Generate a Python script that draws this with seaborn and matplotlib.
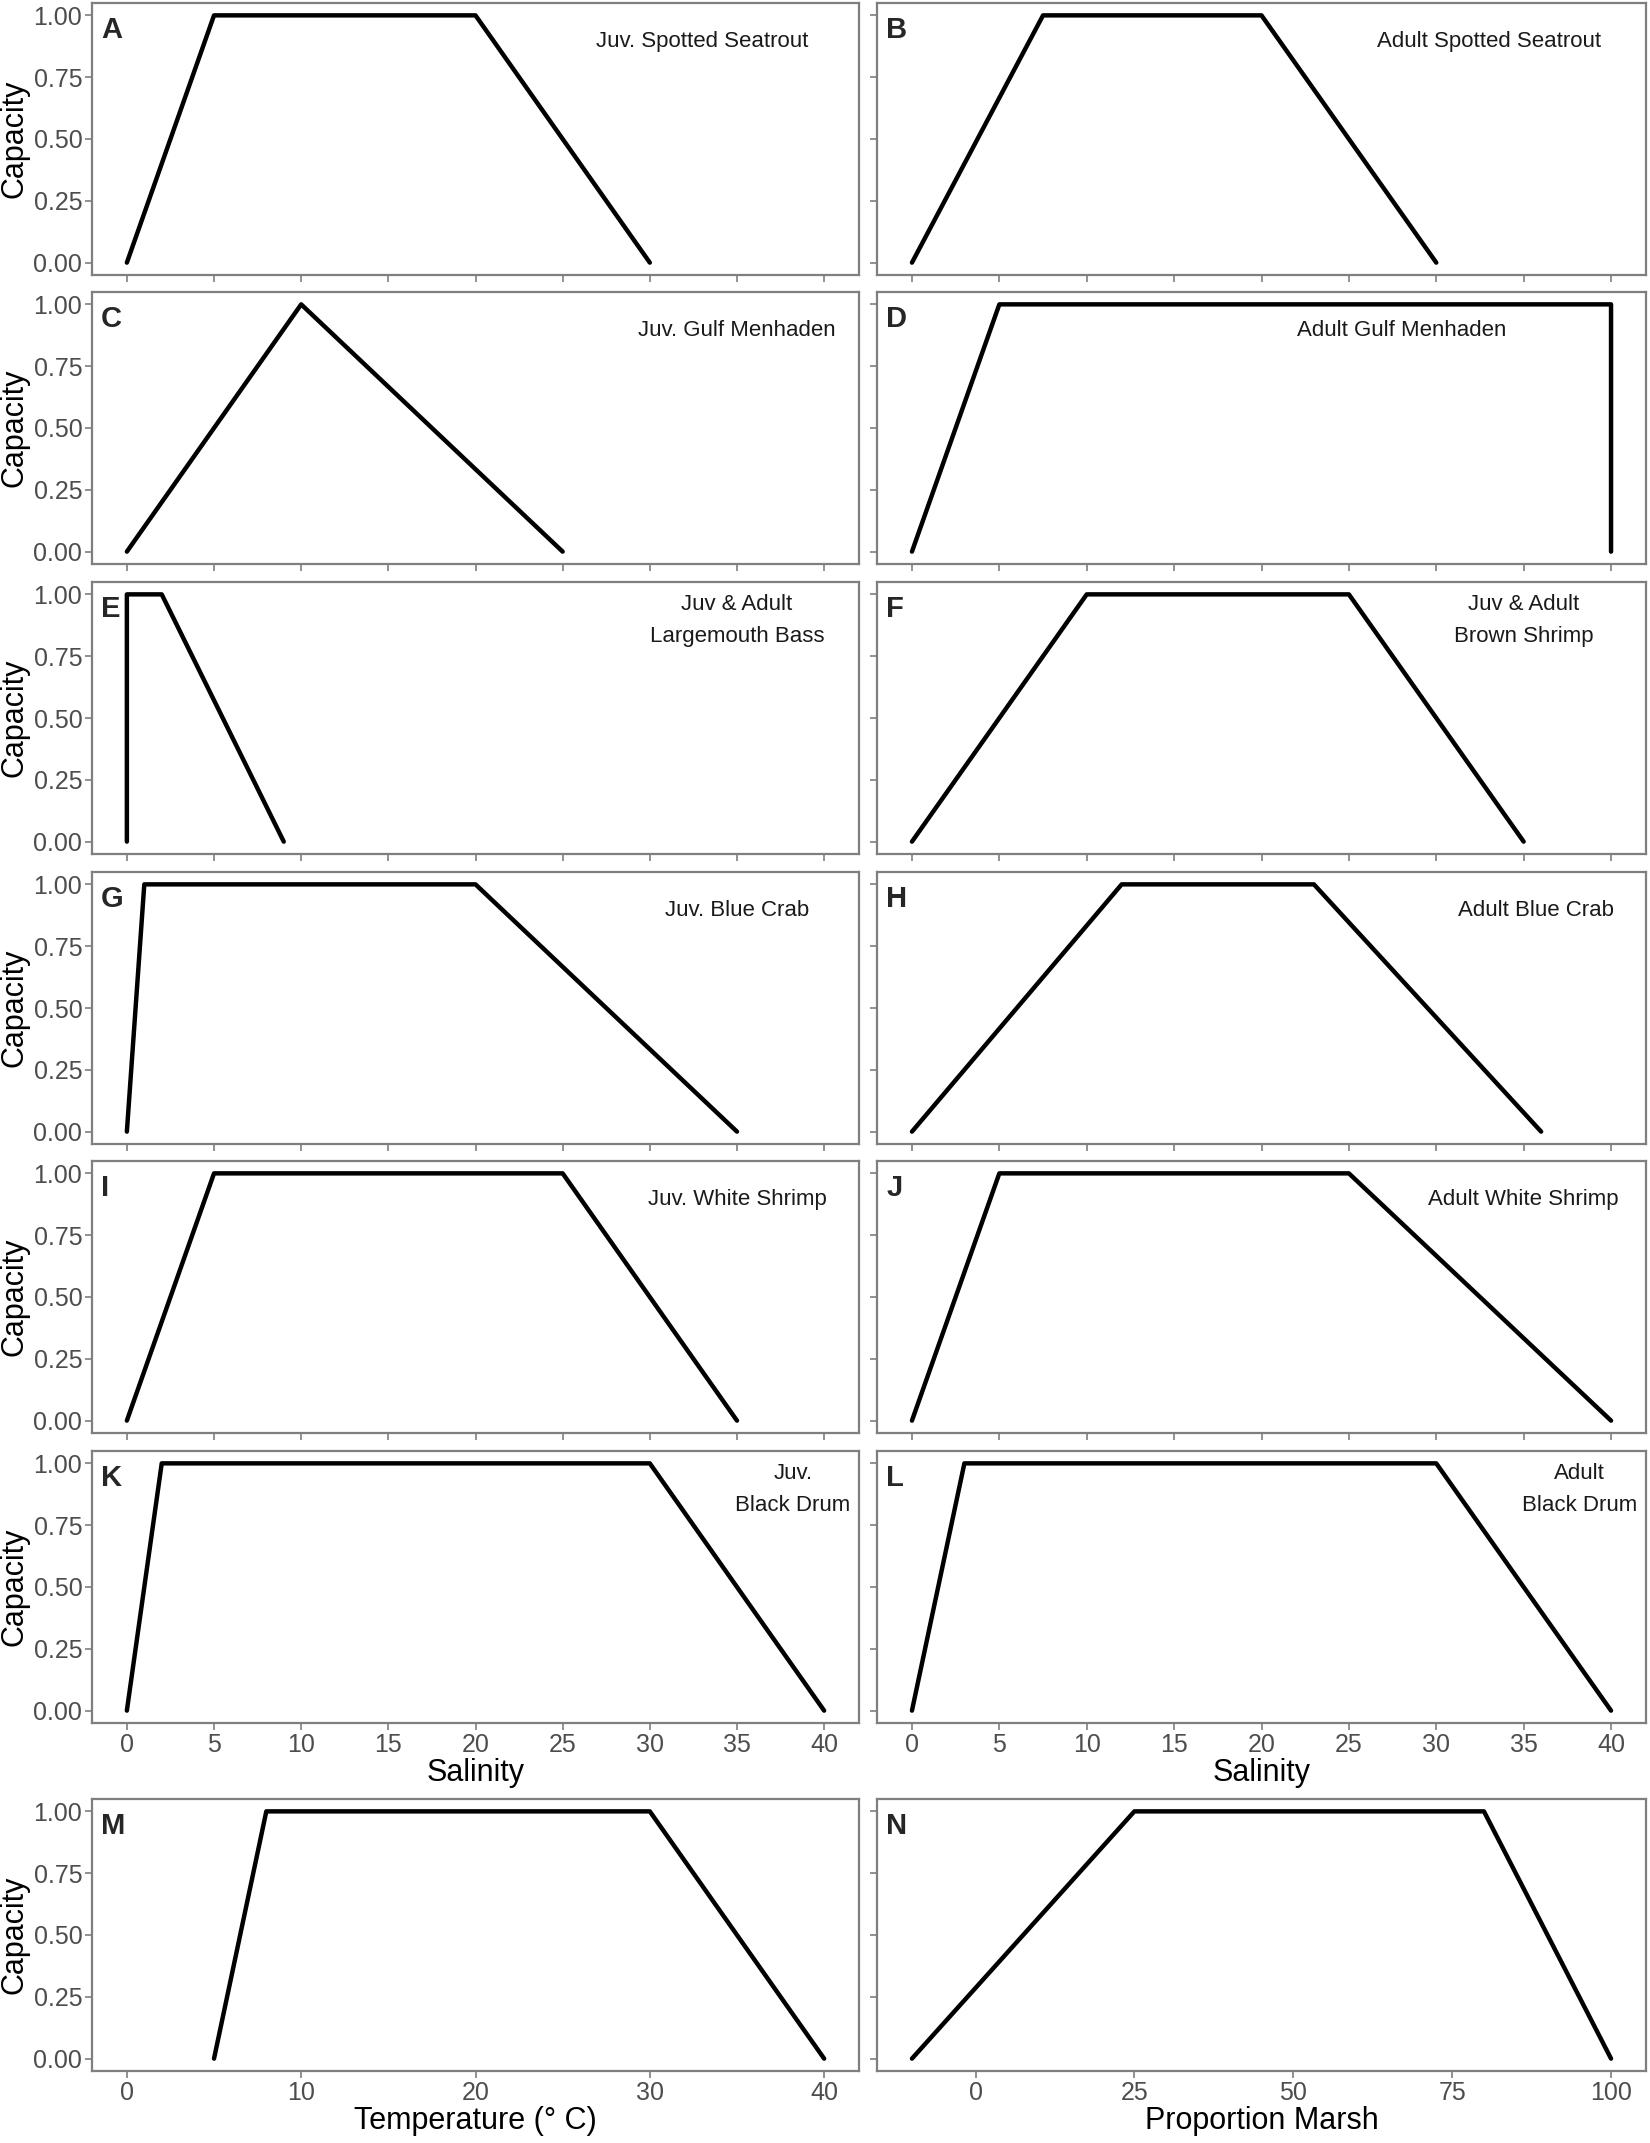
"""Habitat capacity response curves (salinity, temperature, marsh)."""

import matplotlib.pyplot as plt
import pandas as pd
import seaborn as sns

# Panel data: x breakpoints and capacity values
juv_seatrout_x = [0, 5, 20, 30]
juv_seatrout_y = [0, 1, 1, 0]
adult_seatrout_x = [0, 7.5, 20, 30]
adult_seatrout_y = [0, 1, 1, 0]
juv_menhaden_x = [0, 10, 25]
juv_menhaden_y = [0, 1, 0]
adult_menhaden_x = [0, 5, 40, 40]
adult_menhaden_y = [0, 1, 1, 0]
bass_x = [0, 0, 2, 9]
bass_y = [0, 1, 1, 0]
brown_shrimp_x = [0, 10, 25, 35]
brown_shrimp_y = [0, 1, 1, 0]
juv_blue_crab_x = [0, 1, 20, 35]
juv_blue_crab_y = [0, 1, 1, 0]
adult_blue_crab_x = [0, 12, 23, 36]
adult_blue_crab_y = [0, 1, 1, 0]
juv_white_shrimp_x = [0, 5, 25, 35]
juv_white_shrimp_y = [0, 1, 1, 0]
adult_white_shrimp_x = [0, 5, 25, 40]
adult_white_shrimp_y = [0, 1, 1, 0]
juv_black_drum_x = [0, 2, 30, 40]
juv_black_drum_y = [0, 1, 1, 0]
adult_black_drum_x = [0, 3, 30, 40]
adult_black_drum_y = [0, 1, 1, 0]
temperature_x = [5, 8, 30, 40]
temperature_y = [0, 1, 1, 0]
marsh_x = [-10, 25, 80, 100]
marsh_y = [0, 1, 1, 0]

panel_letters = list("ABCDEFGHIJKLMN")
species_labels = [
    "Juv. Spotted Seatrout", "Adult Spotted Seatrout",
    "Juv. Gulf Menhaden", "Adult Gulf Menhaden",
    "Juv & Adult\nLargemouth Bass", "Juv & Adult\nBrown Shrimp",
    "Juv. Blue Crab", "Adult Blue Crab",
    "Juv. White Shrimp", "Adult White Shrimp",
    "Juv.\nBlack Drum", "Adult\nBlack Drum",
    "", "",
]
label_x = [33, 33, 35, 28, 35, 35, 35, 35.7, 35, 35, 38.2, 38.2, None, None]
curves = [
    (juv_seatrout_x, juv_seatrout_y), (adult_seatrout_x, adult_seatrout_y),
    (juv_menhaden_x, juv_menhaden_y), (adult_menhaden_x, adult_menhaden_y),
    (bass_x, bass_y), (brown_shrimp_x, brown_shrimp_y),
    (juv_blue_crab_x, juv_blue_crab_y), (adult_blue_crab_x, adult_blue_crab_y),
    (juv_white_shrimp_x, juv_white_shrimp_y),
    (adult_white_shrimp_x, adult_white_shrimp_y),
    (juv_black_drum_x, juv_black_drum_y), (adult_black_drum_x, adult_black_drum_y),
    (temperature_x, temperature_y), (marsh_x, marsh_y),
]

salinity_ticks = [0, 5, 10, 15, 20, 25, 30, 35, 40]
temperature_ticks = [0, 10, 20, 30, 40]
marsh_ticks = [0, 25, 50, 75, 100]
capacity_ticks = [0, 0.25, 0.5, 0.75, 1.0]

sns.set_theme(style="white")
plt.rcParams["font.family"] = ["Liberation Sans", "DejaVu Sans"]

FIG_W, FIG_H = 1650, 2143
col_left = [92, 877]
col_width = [767, 769]
row_top = [3, 292, 582, 872, 1161, 1451, 1799]
row_height = 272
border = "#7F7F7F"

fig = plt.figure(figsize=(FIG_W / 100, FIG_H / 100), dpi=100)

for i, (xs, ys) in enumerate(curves):
    row, col = divmod(i, 2)
    rect = [
        col_left[col] / FIG_W,
        1 - (row_top[row] + row_height) / FIG_H,
        col_width[col] / FIG_W,
        row_height / FIG_H,
    ]
    ax = fig.add_axes(rect)
    df = pd.DataFrame({"x": xs, "capacity": ys})
    sns.lineplot(data=df, x="x", y="capacity", estimator=None, sort=False,
                 color="black", linewidth=3.2, ax=ax)

    if row < 6:
        ax.set_xlim(-2, 42)
        ax.set_xticks(salinity_ticks)
    elif col == 0:
        ax.set_xlim(-2, 42)
        ax.set_xticks(temperature_ticks)
    else:
        ax.set_xlim(-15.5, 105.5)
        ax.set_xticks(marsh_ticks)
    ax.set_ylim(-0.05, 1.05)
    ax.set_yticks(capacity_ticks)
    ax.set_yticklabels([f"{t:.2f}" for t in capacity_ticks])

    for spine in ax.spines.values():
        spine.set_color(border)
        spine.set_linewidth(1.6)
    ax.tick_params(axis="both", direction="out", length=5, width=1.2,
                   color=border, labelcolor="#4D4D4D", labelsize=18, pad=2,
                   bottom=True, left=True)

    if row < 5:
        ax.tick_params(axis="x", labelbottom=False)
    if col == 1:
        ax.tick_params(axis="y", labelleft=False)
        ax.set_ylabel("")
    else:
        ax.set_ylabel("Capacity", fontsize=22, color="black")
        ax.yaxis.set_label_coords(-0.082, 0.5)

    if row == 5:
        ax.set_xlabel("Salinity", fontsize=22, color="black", labelpad=1)
    elif row == 6:
        xlabel = "Temperature (° C)" if col == 0 else "Proportion Marsh"
        ax.set_xlabel(xlabel, fontsize=22, color="black", labelpad=1)
    else:
        ax.set_xlabel("")

    ax.text(0.012, 0.87, panel_letters[i], transform=ax.transAxes,
            fontsize=21, fontweight="bold", ha="left", va="baseline")
    if species_labels[i]:
        ax.text(label_x[i], 0.895, species_labels[i], fontsize=16,
                ha="center", va="center", linespacing=1.7, color="#1a1a1a")

fig.savefig("out.png", dpi=100)
